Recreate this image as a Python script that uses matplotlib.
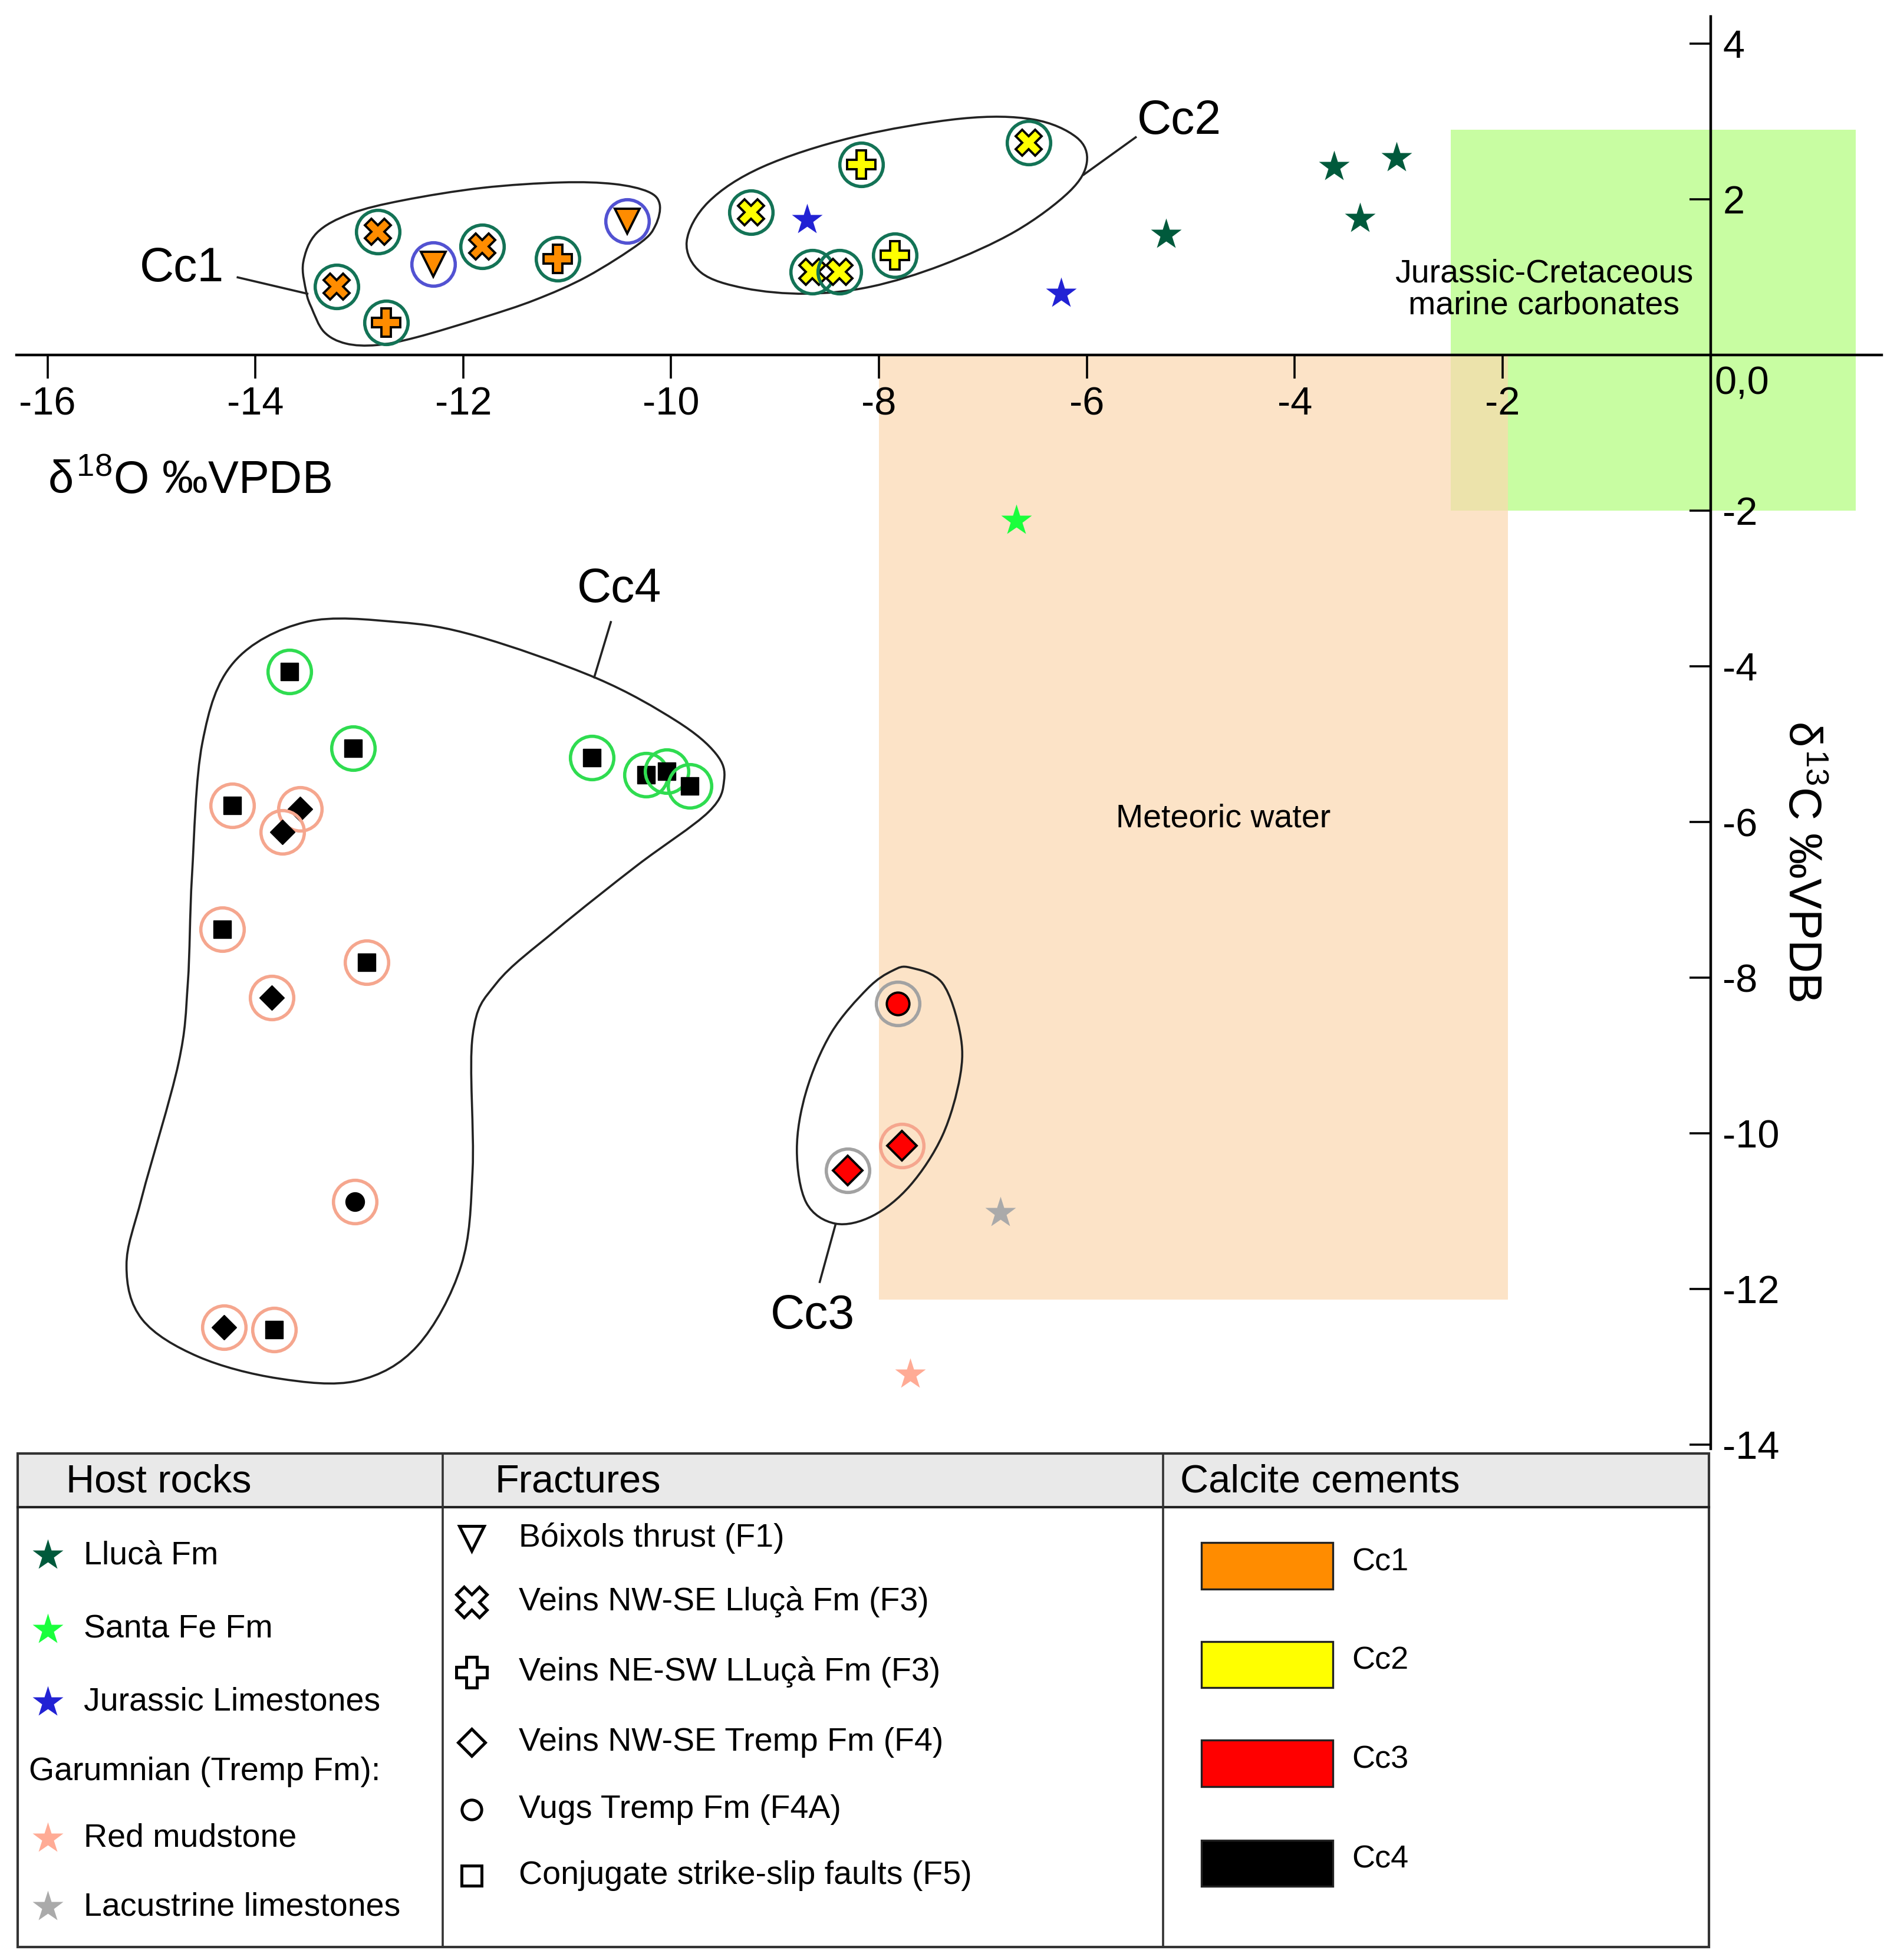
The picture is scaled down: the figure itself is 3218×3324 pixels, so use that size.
import numpy as np
import matplotlib.pyplot as plt
from matplotlib.path import Path
from matplotlib.patches import PathPatch, Rectangle

plt.rcParams['font.family'] = ['Liberation Sans', 'DejaVu Sans']
plt.rcParams['mathtext.fontset'] = 'custom'
plt.rcParams['mathtext.rm'] = 'Liberation Sans'
plt.rcParams['mathtext.it'] = 'Liberation Sans'
plt.rcParams['axes.unicode_minus'] = False

# ---- host rocks (stars) ----
host_keys = ['llu', 'sfe', 'jur', 'red', 'lac']
host_names = ['Llucà Fm', 'Santa Fe Fm', 'Jurassic Limestones', 'Red mudstone', 'Lacustrine limestones']
host_colors = {'llu': '#005a3c', 'sfe': '#1aff3c', 'jur': '#2222d4', 'red': '#ffab95', 'lac': '#aaaaaa'}
ring_colors = {'llu': '#137356', 'sfe': '#2fdc50', 'jur': '#5252d2', 'red': '#f5a68e', 'lac': '#a2a2a2'}

llu_d18o = [-5.24, -3.62, -3.02, -3.37]
llu_d13c = [1.55, 2.42, 2.53, 1.75]
sfe_d18o = [-6.68]
sfe_d13c = [-2.13]
jur_d18o = [-8.69, -6.25]
jur_d13c = [1.74, 0.79]
red_d18o = [-7.70]
red_d13c = [-13.10]
lac_d18o = [-6.83]
lac_d13c = [-11.02]

# ---- calcite cements in fractures ----
cc1_d18o = [-13.22, -12.82, -12.29, -11.82, -11.09, -10.42, -12.74]
cc1_d13c = [0.88, 1.59, 1.17, 1.40, 1.24, 1.72, 0.42]
cc1_frac = ['X', 'X', 'v', 'X', 'P', 'v', 'P']
cc1_host = ['llu', 'llu', 'jur', 'llu', 'llu', 'jur', 'llu']

cc2_d18o = [-9.23, -8.17, -6.56, -8.64, -8.38, -7.85]
cc2_d13c = [1.84, 2.45, 2.73, 1.07, 1.07, 1.28]
cc2_frac = ['X', 'P', 'X', 'X', 'X', 'P']
cc2_host = ['llu'] * 6

cc3_d18o = [-7.82, -7.78, -8.30]
cc3_d13c = [-8.33, -10.16, -10.48]
cc3_frac = ['o', 'D', 'D']
cc3_host = ['lac', 'red', 'lac']

cc4_d18o = [-13.67, -13.06, -10.76, -10.24, -10.04, -9.82,
            -14.22, -13.57, -13.74, -14.32, -12.93, -13.84, -13.04, -14.30, -13.82]
cc4_d13c = [-4.07, -5.05, -5.17, -5.39, -5.35, -5.54,
            -5.79, -5.83, -6.13, -7.38, -7.80, -8.26, -10.88, -12.49, -12.52]
cc4_frac = ['s'] * 6 + ['s', 'D', 'D', 's', 's', 'D', 'o', 'D', 's']
cc4_host = ['sfe'] * 6 + ['red'] * 9

cement_names = ['Cc1', 'Cc2', 'Cc3', 'Cc4']
cement_colors = ['#ff8c00', '#ffff00', '#ff0000', '#000000']

frac_markers = ['v', 'X', 'P', 'D', 'o', 's']
frac_names = ['Bóixols thrust (F1)', 'Veins NW-SE Lluçà Fm (F3)', 'Veins NE-SW LLuçà Fm (F3)',
              'Veins NW-SE Tremp Fm (F4)', 'Vugs Tremp Fm (F4A)', 'Conjugate strike-slip faults (F5)']

# ---- reference fields ----
marine_box = (-2.5, 1.4, -2.0, 2.9)      # x0, x1, y0, y1
meteoric_box = (-8.0, -1.95, -12.14, 0.0)

# ---- hand drawn group outlines ----
cc1_out_x = [-13.51, -13.54, -13.41, -13.08, -12.58, -11.82, -11.06, -10.55, -10.22, -10.11,
             -10.15, -10.30, -10.81, -11.31, -11.82, -12.45, -12.83, -13.13, -13.34, -13.46]
cc1_out_y = [0.81, 1.19, 1.57, 1.82, 1.99, 2.15, 2.22, 2.20, 2.10, 1.94,
             1.67, 1.44, 1.01, 0.71, 0.48, 0.23, 0.13, 0.15, 0.30, 0.61]
cc2_out_x = [-9.85, -9.64, -9.12, -8.25, -7.21, -6.52, -6.10, -6.00, -6.17, -6.69,
             -7.39, -8.08, -8.70, -9.29, -9.71]
cc2_out_y = [1.46, 1.97, 2.42, 2.80, 3.04, 3.03, 2.80, 2.48, 2.10, 1.59,
             1.16, 0.88, 0.79, 0.86, 1.06]
cc3_out_x = [-7.70, -7.39, -7.22, -7.22, -7.39, -7.70, -8.06, -8.42, -8.70, -8.79,
             -8.70, -8.46, -8.11, -7.87]
cc3_out_y = [-7.87, -8.07, -8.71, -9.27, -10.03, -10.67, -11.06, -11.16, -10.89, -10.21,
             -9.46, -8.71, -8.14, -7.91]
cc4_out_x = [-13.52, -14.21, -14.51, -14.61, -14.65, -14.74, -15.09, -15.24, -15.09, -14.55,
             -13.78, -13.02, -12.44, -12.02, -11.91, -11.91, -11.68, -11.10, -10.33, -9.64,
             -9.49, -9.57, -9.95, -10.72, -11.87, -12.63]
cc4_out_y = [-3.43, -3.95, -4.98, -6.69, -8.07, -9.10, -10.81, -11.70, -12.39, -12.87,
             -13.15, -13.18, -12.73, -11.70, -10.47, -8.75, -8.07, -7.38, -6.56, -5.87,
             -5.46, -5.12, -4.70, -4.15, -3.61, -3.43]

xticks = [-16, -14, -12, -10, -8, -6, -4, -2]
yticks = [4, 2, -2, -4, -6, -8, -10, -12, -14]


def smooth_outline(ax, xs, ys):
    pts = np.column_stack([xs, ys])
    n = len(pts)
    verts = [pts[0]]
    codes = [Path.MOVETO]
    for i in range(n):
        p0, p1, p2, p3 = pts[i - 1], pts[i], pts[(i + 1) % n], pts[(i + 2) % n]
        verts += [p1 + (p2 - p0) / 6, p2 - (p3 - p1) / 6, p2]
        codes += [Path.CURVE4] * 3
    ax.add_patch(PathPatch(Path(verts, codes), fill=False, lw=1.3, ec='#222222', zorder=3))


fig = plt.figure(figsize=(16.09, 16.62), dpi=200)
ax = fig.add_axes([0, 0, 1, 1])
ax.set_xlim(-1368 / 83.125, (1517.2 - 1368) / 83.125)
ax.set_ylim((284 - 1567.2) / 62.22, 284 / 62.22)
ax.patch.set_visible(False)

# fields
x0, x1, y0, y1 = marine_box
ax.add_patch(Rectangle((x0, y0), x1 - x0, y1 - y0, fc='#c8fda2', ec='none', zorder=0))
x0, x1, y0, y1 = meteoric_box
ax.add_patch(Rectangle((x0, y0), x1 - x0, y1 - y0, fc='#fcd8b0', ec='none', alpha=0.7, zorder=0.5))
ax.text(-1.60, 0.84, 'Jurassic-Cretaceous\nmarine carbonates', ha='center', va='center',
        fontsize=20, linespacing=1.05, zorder=2)
ax.text(-4.69, -5.96, 'Meteoric water', ha='center', va='center', fontsize=20, zorder=2)

# axes through the origin
for s in ['left', 'top']:
    ax.spines[s].set_visible(False)
ax.spines['bottom'].set_position(('data', 0))
ax.spines['right'].set_position(('data', 0))
ax.spines['bottom'].set_bounds(-16.3, 1.65)
ax.spines['right'].set_bounds(-14.05, 4.35)
for s in ['bottom', 'right']:
    ax.spines[s].set_linewidth(1.6)
    ax.spines[s].set_zorder(2.5)
ax.yaxis.set_ticks_position('right')
ax.set_xticks(xticks, labels=[str(t) for t in xticks])
ax.set_yticks(yticks, labels=[str(t) for t in yticks])
ax.tick_params(axis='x', direction='out', length=14.5, width=1.3, pad=4.5, labelsize=24)
ax.tick_params(axis='y', direction='in', length=13, width=1.3, pad=7.5, labelsize=24)
ax.text(0.04, -0.37, '0,0', ha='left', va='center', fontsize=24)
ax.text(-16.0, -1.62, r'$\delta^{18}$O ‰VPDB', ha='left', va='center', fontsize=28)
ax.text(0.87, -6.5, r'$\delta^{13}$C ‰VPDB', ha='center', va='center', fontsize=28, rotation=270)

# group outlines and labels
smooth_outline(ax, cc1_out_x, cc1_out_y)
smooth_outline(ax, cc2_out_x, cc2_out_y)
smooth_outline(ax, cc3_out_x, cc3_out_y)
smooth_outline(ax, cc4_out_x, cc4_out_y)
ax.plot([-14.17, -13.50], [1.0, 0.79], color='#222222', lw=1.3, zorder=3)
ax.plot([-6.03, -5.53], [2.32, 2.80], color='#222222', lw=1.3, zorder=3)
ax.plot([-8.42, -8.57], [-11.18, -11.91], color='#222222', lw=1.3, zorder=3)
ax.plot([-10.58, -10.74], [-3.43, -4.14], color='#222222', lw=1.3, zorder=3)
ax.text(-14.71, 1.11, 'Cc1', ha='center', va='center', fontsize=29)
ax.text(-5.11, 3.0, 'Cc2', ha='center', va='center', fontsize=29)
ax.text(-8.64, -12.35, 'Cc3', ha='center', va='center', fontsize=29)
ax.text(-10.50, -3.01, 'Cc4', ha='center', va='center', fontsize=29)

# host rock stars
host_x = {'llu': llu_d18o, 'sfe': sfe_d18o, 'jur': jur_d18o, 'red': red_d18o, 'lac': lac_d18o}
host_y = {'llu': llu_d13c, 'sfe': sfe_d13c, 'jur': jur_d13c, 'red': red_d13c, 'lac': lac_d13c}
for k in host_keys:
    ax.plot(host_x[k], host_y[k], '*', ms=20, color=host_colors[k], mec='none', zorder=4)

# cements
inner_size = {'X': 16, 'P': 17, 'v': 15, 's': 11, 'D': 10.5, 'o': 11.5}
groups = [(cc1_d18o, cc1_d13c, cc1_frac, cc1_host, 1.0),
          (cc2_d18o, cc2_d13c, cc2_frac, cc2_host, 1.0),
          (cc3_d18o, cc3_d13c, cc3_frac, cc3_host, 1.2),
          (cc4_d18o, cc4_d13c, cc4_frac, cc4_host, 1.0)]
z = 5
for (xs, ys, fr, hs, scale), col in zip(groups, cement_colors):
    for x, y, f, h in zip(xs, ys, fr, hs):
        ax.plot(x, y, 'o', ms=26.5, mfc='none', mec=ring_colors[h], mew=2.0, zorder=z)
        ax.plot(x, y, f, ms=inner_size[f] * scale, mfc=col, mec='black',
                mew=1.4 if col != '#000000' else 0.5, zorder=z + 0.5)
        z += 1

# ---- legend table (screen-like coordinates) ----
lax = fig.add_axes([0, 0, 1, 1])
lax.set_xlim(0, 1517.2)
lax.set_ylim(1567.2, 0)
lax.axis('off')
lax.patch.set_visible(False)

lax.add_patch(Rectangle((14, 1162), 1353, 43, fc='#e9e9e9', ec='none'))
lax.add_patch(Rectangle((14, 1162), 1353, 395, fc='none', ec='#333333', lw=1.5))
lax.plot([14, 1367], [1205, 1205], color='#222222', lw=1.5)
lax.plot([354, 354], [1162, 1557], color='#333333', lw=1.3)
lax.plot([930, 930], [1162, 1557], color='#333333', lw=1.3)
lax.text(53, 1185, 'Host rocks', ha='left', va='center', fontsize=24)
lax.text(396, 1185, 'Fractures', ha='left', va='center', fontsize=24)
lax.text(944, 1185, 'Calcite cements', ha='left', va='center', fontsize=24)

host_rows = [1244, 1303, 1361, 1470, 1525]
for k, name, yy in zip(host_keys, host_names, host_rows):
    lax.plot(38, yy, '*', ms=20, color=host_colors[k], mec='none')
    lax.text(67, yy, name, ha='left', va='center', fontsize=20)
lax.text(23, 1417, 'Garumnian (Tremp Fm):', ha='left', va='center', fontsize=20)

frac_rows = [1230, 1281, 1337, 1393, 1447, 1500]
frac_leg_size = {'v': 15, 'X': 19, 'P': 19, 'D': 11.5, 'o': 12, 's': 12}
for m, name, yy in zip(frac_markers, frac_names, frac_rows):
    lax.plot(377, yy, m, ms=frac_leg_size[m], mfc='white', mec='black', mew=1.8)
    lax.text(415, yy, name, ha='left', va='center', fontsize=20)

cem_rows = [1252, 1331, 1410, 1490]
for name, col, yy in zip(cement_names, cement_colors, cem_rows):
    lax.add_patch(Rectangle((961, yy - 18.5), 105, 37, fc=col, ec='#222222', lw=1.2))
    lax.text(1081, yy - 3, name, ha='left', va='center', fontsize=19.5)

fig.savefig('out.png', dpi=200)
